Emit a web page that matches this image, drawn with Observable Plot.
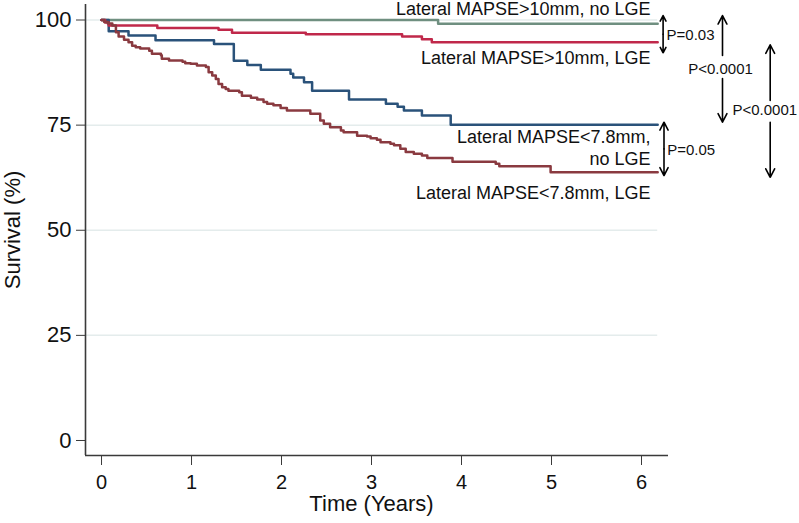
<!DOCTYPE html>
<html>
<head>
<meta charset="utf-8">
<script src="https://cdn.jsdelivr.net/npm/d3@7"></script>
<script src="https://cdn.jsdelivr.net/npm/@observablehq/plot@0.6"></script>
<style>
  html, body { margin: 0; padding: 0; background: #fff; }
  #chart svg { display: block; }
</style>
</head>
<body>
<div id="chart"></div>
<script>
// ---- Data ----
const seriesNames = [
  "Lateral MAPSE>10mm, no LGE",
  "Lateral MAPSE<7.8mm, no LGE",
  "Lateral MAPSE>10mm, LGE",
  "Lateral MAPSE<7.8mm, LGE"
];
const seriesColors = ["#6f8f80", "#2a527a", "#c0284a", "#8a3a40"];

const timeHighNoLGE = [0, 3.74, 6.18];
const survHighNoLGE = [100, 99.1, 99.1];

const timeLowNoLGE = [0, 0.08, 0.30, 0.60, 1.25, 1.47, 1.62, 1.77, 2.10, 2.13, 2.25, 2.34, 2.75, 3.16, 3.29, 3.36, 3.56, 3.88, 6.18];
const survLowNoLGE = [100, 97.3, 96.3, 95.2, 94.3, 90.3, 89.3, 88.2, 87.2, 86.3, 85.2, 83.2, 81.1, 80.1, 79.4, 78.5, 77.3, 75.1, 75.1];

const timeHighLGE = [0, 0.04, 0.08, 0.62, 1.30, 1.45, 2.27, 3.34, 3.56, 3.67, 6.18];
const survHighLGE = [100, 99.4, 98.7, 98.1, 97.7, 97.0, 96.6, 96.1, 95.4, 94.7, 94.7];

const timeLowLGE = [0, 0.03, 0.07, 0.12, 0.16, 0.19, 0.25, 0.30, 0.34, 0.38,
  0.43, 0.53, 0.56, 0.66, 0.67, 0.75, 0.90, 0.93, 0.99, 1.06,
  1.16, 1.19, 1.23, 1.27, 1.30, 1.34, 1.38, 1.41, 1.53, 1.56,
  1.66, 1.73, 1.80, 1.84, 1.91, 1.99, 2.06, 2.32, 2.43, 2.47,
  2.54, 2.66, 2.69, 2.84, 2.95, 2.99, 3.06, 3.10, 3.21, 3.25,
  3.32, 3.38, 3.47, 3.56, 3.62, 3.90, 4.38, 4.42, 4.99, 6.18];
const survLowLGE = [100, 99.5, 99.2, 98.7, 97.1, 96.1, 95.3, 94.7, 93.9, 93.5,
  93.2, 92.7, 92.0, 91.6, 90.8, 90.4, 90.1, 89.7, 89.6, 89.2,
  88.8, 87.6, 86.8, 86.0, 84.8, 84.0, 83.6, 83.2, 82.8, 82.0,
  81.5, 81.1, 80.5, 80.1, 79.7, 79.1, 78.5, 77.7, 76.1, 75.3,
  74.5, 73.7, 73.3, 72.5, 72.3, 71.9, 71.5, 70.9, 70.6, 70.2,
  69.4, 68.6, 68.2, 67.8, 67.2, 66.3, 65.8, 65.2, 63.8, 63.8];

const xTicks = [0, 1, 2, 3, 4, 5, 6];
const yTicks = [0, 25, 50, 75, 100];
const gridValues = [25, 50, 75, 100];

// curve labels (right-aligned next to curve ends)
const labelTexts = ["Lateral MAPSE>10mm, no LGE", "Lateral MAPSE>10mm, LGE", "Lateral MAPSE<7.8mm,\nno LGE", "Lateral MAPSE<7.8mm, LGE"];
const labelTime = [6.1, 6.1, 6.1, 6.1];
const labelSurv = [102.85, 91.15, 69.8, 59.05];

// p-value comparison arrows (double-headed, drawn as pairs)
const arrowTime = [6.24, 6.24, 6.9, 6.9, 7.43, 7.43, 6.25, 6.25];
const arrowFrom = [96.6, 96.6, 91.56, 86.09, 80.86, 75.7, 69.35, 69.35];
const arrowTo = [101.07, 92.2, 101.07, 75.7, 94.1, 62.6, 75.7, 63.0];

const pTexts = ["P=0.03", "P<0.0001", "P<0.0001", "P=0.05"];
const pTime = [6.278, 6.878, 7.011, 6.285];
const pSurv = [96.3, 88.4, 78.5, 68.97];
const pAnchor = ["start", "middle", "start", "start"];

// ---- Build tables ----
const seriesTimes = [timeHighNoLGE, timeLowNoLGE, timeHighLGE, timeLowLGE];
const seriesSurv = [survHighNoLGE, survLowNoLGE, survHighLGE, survLowLGE];
const curves = seriesNames.flatMap((name, i) =>
  seriesTimes[i].map((t, j) => ({series: name, time: t, surv: seriesSurv[i][j]})));
const labels = labelTexts.map((text, i) => ({text, time: labelTime[i], surv: labelSurv[i]}));
const arrows = arrowTime.map((t, i) => ({t, from: arrowFrom[i], to: arrowTo[i]}));
const pvals = pTexts.map((text, i) => ({text, time: pTime[i], surv: pSurv[i], anchor: pAnchor[i]}));

const font = "'Liberation Sans', Arial, Helvetica, sans-serif";
const axisColor = "#3a3a3a";

const chart = Plot.plot({
  width: 799,
  height: 523,
  marginLeft: 85,
  marginRight: 131,
  marginTop: 4,
  marginBottom: 68,
  style: {fontFamily: font, background: "#fff", overflow: "visible"},
  x: {domain: [-0.178, 6.3]},
  y: {domain: [-3.57, 103.69]},
  color: {domain: seriesNames, range: seriesColors},
  marks: [
    Plot.ruleY(gridValues, {x1: -0.178, x2: 6.18, stroke: "#e4ecec", strokeWidth: 1.5}),
    Plot.line(curves, {x: "time", y: "surv", z: "series", stroke: "series", curve: "step-after", strokeWidth: 2.5}),
    Plot.axisY({ticks: yTicks, tickSize: 9, tickPadding: 5, fontSize: 22, stroke: axisColor, color: "#111",
      label: "Survival (%)", labelAnchor: "center", labelOffset: 81, labelArrow: "none"}),
    Plot.axisX({ticks: xTicks, tickFormat: d => String(d), tickSize: 10, tickPadding: 9, fontSize: 20, stroke: axisColor, color: "#111", label: null}),
    Plot.text(["Time (Years)"], {x: () => 3, frameAnchor: "bottom", dy: 55, fontSize: 22, fill: "#111"}),
    Plot.ruleX([-0.178], {stroke: axisColor, strokeWidth: 1.6}),
    Plot.ruleY([-3.57], {stroke: axisColor, strokeWidth: 1.6}),
    Plot.text(labels, {x: "time", y: "surv", text: "text", textAnchor: "end", fontSize: 18, lineHeight: 1.2, fill: "#111"}),
    Plot.arrow(arrows, {x1: "t", x2: "t", y1: "from", y2: "to", stroke: "#000", strokeWidth: 1.6, headLength: 9, headAngle: 55}),
    Plot.text(pvals.filter(d => d.anchor === "start"), {x: "time", y: "surv", text: "text", textAnchor: "start", fontSize: 15, fill: "#111"}),
    Plot.text(pvals.filter(d => d.anchor === "middle"), {x: "time", y: "surv", text: "text", textAnchor: "middle", fontSize: 15, fill: "#111"})
  ]
});
document.getElementById("chart").appendChild(chart);
</script>
</body>
</html>
